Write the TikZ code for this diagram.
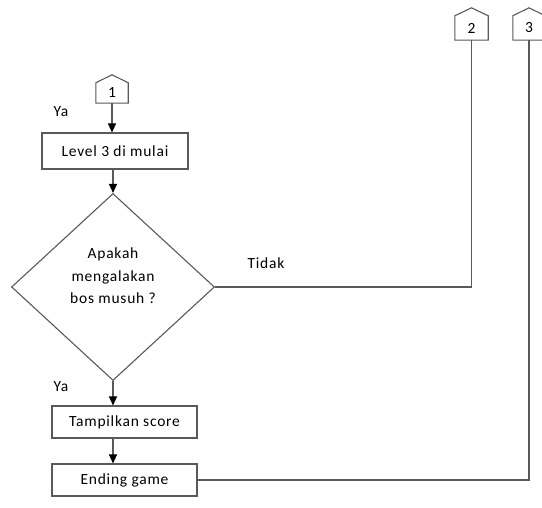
\documentclass[tikz,border=0pt]{standalone}
\usepackage{fontspec}
\setmainfont{Carlito}[LetterSpace=5]
\usetikzlibrary{shapes.geometric,arrows.meta}

\begin{document}
\begin{tikzpicture}[x=1pt, y=-1pt,
  font=\fontsize{15.5}{22.5}\selectfont,
  wire/.style={draw=black!65, line width=1.1pt},
  flow/.style={wire, -{Triangle[black, length=9pt, width=8pt]}},
  box/.style={wire, fill=white, rectangle, inner sep=0pt, minimum height=32pt},
  offpage/.style={rectangle, minimum width=32pt, inner sep=0pt,
    append after command={\pgfextra{\draw[wire] (\tikzlastnode.south west) -- (\tikzlastnode.north west)
      -- ([yshift=8pt]\tikzlastnode.north) -- (\tikzlastnode.north east)
      -- (\tikzlastnode.south east) -- cycle;}}},
  decision/.style={wire, diamond, minimum width=203pt, minimum height=187pt, inner sep=0pt}]
  \useasboundingbox (0,0) rectangle (542,508);

  % off-page connectors
  \node[offpage, minimum height=20pt] (c1) at (112,93) {1};
  \node[offpage, minimum height=24pt, minimum width=33pt] (c2) at (471.5,28) {2};
  \node[offpage, minimum height=24pt] (c3) at (529,28) {3};

  % main column
  \node[box, minimum width=146pt, minimum height=36pt] (lvl) at (115,151) {Level 3 di mulai};
  \node[decision] (q) at (113,287) {};
  \node[align=center] (qtext) at (113,276) {Apakah\\mengalakan\\bos musuh ?};
  \node[box, minimum width=145pt] (score) at (124.5,422) {Tampilkan score};
  \node[box, minimum width=145pt] (end) at (124.5,480) {Ending game};

  % labels
  \node (ya1) at (61,112) {Ya};
  \node (ya2) at (61,387) {Ya};
  \node (tidak) at (266,263) {Tidak};

  % connectors
  \draw[flow] (c1.south) -- (c1.south |- lvl.north);
  \draw[flow] (lvl.south -| q.north) -- (q.north);
  \draw[flow] (q.south) -- (q.south |- score.north);
  \draw[flow] (score.south -| q.south) -- (q.south |- end.north);
  \draw[wire] (q.east) -| (c2.south);
  \draw[wire] (end.east) -| (c3.south);
\end{tikzpicture}
\end{document}
